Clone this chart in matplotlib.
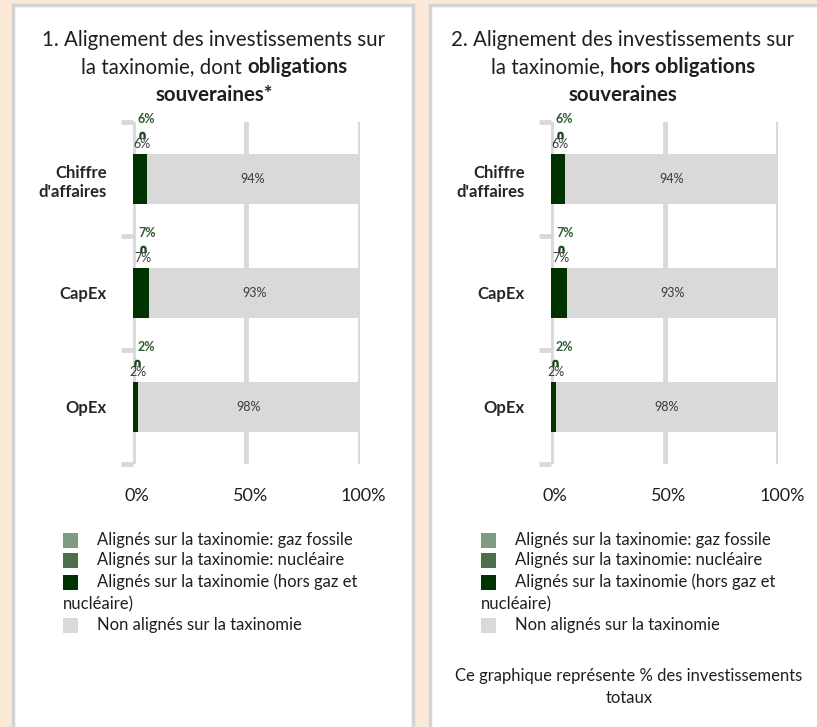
import matplotlib
matplotlib.use('Agg')
import matplotlib.pyplot as plt
from matplotlib.patches import Rectangle
from matplotlib.transforms import ScaledTranslation

W, H = 817, 727

categories = ["Chiffre\nd'affaires", "CapEx", "OpEx"]
series_names = ["Alignés sur la taxinomie: gaz fossile",
                "Alignés sur la taxinomie: nucléaire",
                "Alignés sur la taxinomie (hors gaz et\nnucléaire)",
                "Non alignés sur la taxinomie"]
series_colors = ['#7F9C7F', '#4A6F4A', '#003300', '#D9D9D9']

# panel 1: dont obligations souveraines
gaz_1 = [0, 0, 0]
nucl_1 = [0, 0, 0]
hors_1 = [6, 7, 2]
non_1 = [94, 93, 98]

# panel 2: hors obligations souveraines
gaz_2 = [0, 0, 0]
nucl_2 = [0, 0, 0]
hors_2 = [6, 7, 2]
non_2 = [94, 93, 98]

xticks = [0, 50, 100]
xticklabels = ['0%', '50%', '100%']

FONT = 'Lato'
plt.rcParams['font.family'] = [FONT, 'DejaVu Sans']

fig = plt.figure(figsize=(W / 100, H / 100), dpi=100)
fig.patch.set_facecolor('#FBE8D6')


def fx(px):
    return px / W


def fy(py):
    return 1 - py / H


# white panels with grey frame (behind the axes)
for x0, x1 in [(13, 413), (430, 830)]:
    fig.patches.append(Rectangle((fx(x0), fy(760)), fx(x1 - x0), (760 - 5) / H,
                                 transform=fig.transFigure, facecolor='white',
                                 edgecolor='#D3D3D3', lw=2.5, zorder=-5))

renderer = fig.canvas.get_renderer()


def text_width(s, **kw):
    t = fig.text(0, 0, s, **kw)
    w = t.get_window_extent(renderer=renderer).width
    t.remove()
    return w


def title_line(xc, y, parts, size=14.8):
    # parts: list of (text, weight), joined by spaces, centred on xc
    sp = text_width('x x', fontsize=size) - text_width('xx', fontsize=size)
    widths = [text_width(s, fontsize=size, fontweight=wt) for s, wt in parts]
    total = sum(widths) + sp * (len(parts) - 1)
    x = xc - total / 2
    for (s, wt), w in zip(parts, widths):
        fig.text(fx(x), fy(y), s, fontsize=size, fontweight=wt, color='#1F1F1F',
                 ha='left', va='center')
        x += w + sp


def panel(x0, x100, gaz, nucl, hors, non):
    ax = fig.add_axes([fx(x0), fy(464), fx(x100 - x0), (464 - 122) / H])
    ax.patch.set_alpha(0)
    ax.set_xlim(0, 100)
    ax.set_ylim(2.5, -0.5)
    y = list(range(len(categories)))
    left = [0] * len(y)
    for vals, col in zip([gaz, nucl, hors, non], series_colors):
        ax.barh(y, vals, left=left, height=0.43, color=col, zorder=2)
        left = [a + b for a, b in zip(left, vals)]
    ax.set_xticks(xticks)
    ax.set_xticklabels(xticklabels, fontsize=13, color='#1F1F1F')
    ax.tick_params(axis='x', length=0, pad=17)
    shift = ScaledTranslation(4 / 100, 0, fig.dpi_scale_trans)
    for lbl in ax.get_xticklabels():
        lbl.set_transform(lbl.get_transform() + shift)
    ax.set_yticks(y)
    ax.set_yticklabels(categories, fontsize=12, fontweight='bold', color='#262626',
                       linespacing=1.3)
    ax.tick_params(axis='y', which='major', length=0, pad=19)
    ax.set_yticks([-0.5, 0.5, 1.5, 2.5], minor=True)
    ax.tick_params(axis='y', which='minor', length=9, width=3.5, color='#D9D9D9')
    ax.grid(axis='x', color='#D9D9D9', lw=3.5, zorder=0)
    ax.set_axisbelow(True)
    for s in ax.spines.values():
        s.set_visible(False)
    for i in y:
        a = gaz[i] + nucl[i] + hors[i]
        ax.text(hors[i] + gaz[i] + nucl[i] + non[i] / 2, i, f'{non[i]}%', fontsize=9,
                color='#3A3A3A', ha='center', va='center', zorder=3)
        ax.text(2.2, i - 0.525, f'{a}%', fontsize=9, fontweight='bold',
                color='#2F5A2F', ha='left', va='center')
        ax.text(a / 2 + 1, i - 0.31, f'{a}%', fontsize=9, color='#3A3A3A',
                ha='center', va='center')
        ax.plot([a / 2 + 0.8], [i - 0.39], marker=r'$\cap$', markersize=4.5,
                color='#1E4A1E', zorder=3)
    return ax


def legend(xsq, xtxt):
    rows = [540, 560, 582, 625]
    for name, col, r in zip(series_names, series_colors, rows):
        fig.patches.append(Rectangle((fx(xsq), fy(r + 7.5)), fx(15), 15 / H,
                                     transform=fig.transFigure, facecolor=col,
                                     edgecolor='none'))
        lines = name.split('\n')
        fig.text(fx(xtxt), fy(r), lines[0], fontsize=12, color='#1F1F1F',
                 ha='left', va='center')
        if len(lines) > 1:
            fig.text(fx(xsq), fy(r + 22), lines[1], fontsize=12, color='#1F1F1F',
                     ha='left', va='center')


panel(133, 359.5, gaz_1, nucl_1, hors_1, non_1)
panel(551, 778, gaz_2, nucl_2, hors_2, non_2)

title_line(214, 40, [('1. Alignement des investissements sur', 'normal')])
title_line(214, 67, [('la taxinomie, dont', 'normal'), ('obligations', 'bold')])
title_line(214, 95, [('souveraines*', 'bold')])

title_line(623, 40, [('2. Alignement des investissements sur', 'normal')])
title_line(623, 67, [('la taxinomie,', 'normal'), ('hors obligations', 'bold')])
title_line(623, 95, [('souveraines', 'bold')])

legend(63, 97)
legend(481, 515)

fig.text(fx(629), fy(676), 'Ce graphique représente % des investissements',
         fontsize=12, color='#1F1F1F', ha='center', va='center')
fig.text(fx(629), fy(698), 'totaux', fontsize=12, color='#1F1F1F',
         ha='center', va='center')

fig.savefig('out.png', dpi=100, facecolor=fig.get_facecolor())
